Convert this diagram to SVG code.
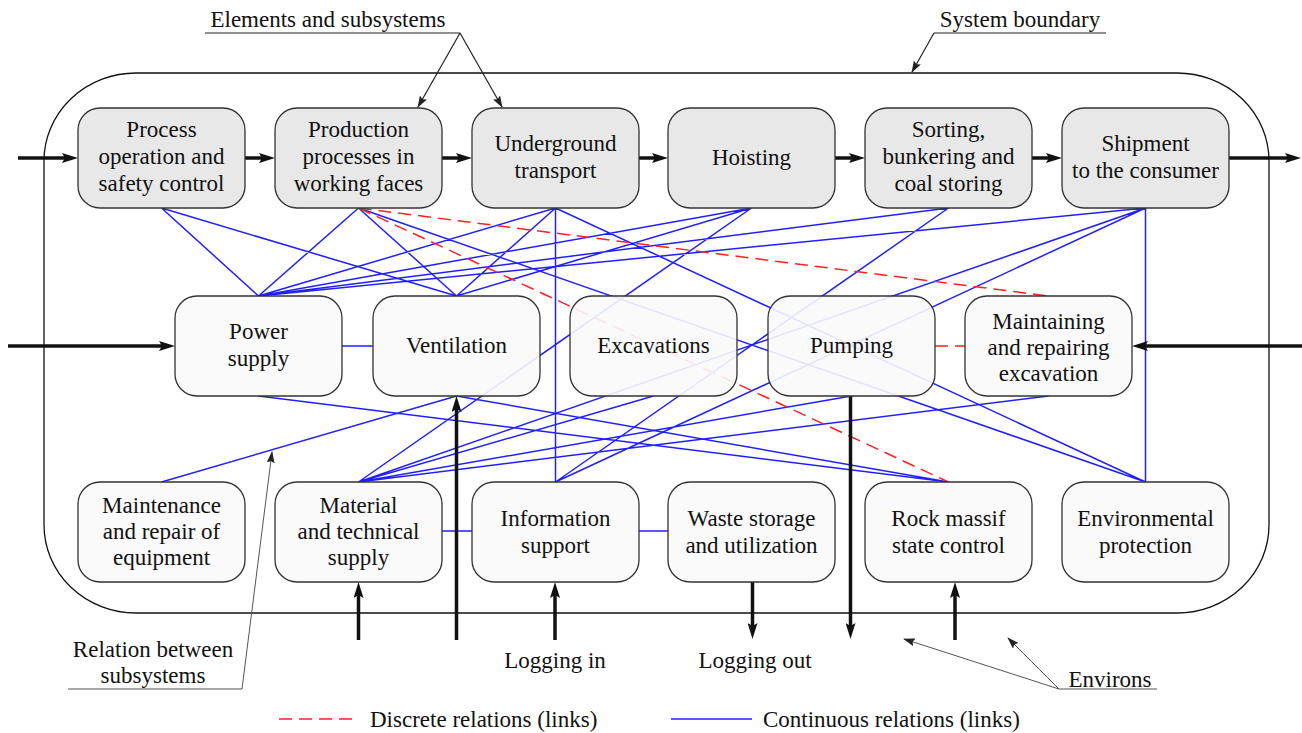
<svg xmlns="http://www.w3.org/2000/svg" width="1302" height="733" viewBox="0 0 1302 733">
<defs>
<marker id="thick" markerUnits="userSpaceOnUse" viewBox="0 0 16 10" markerWidth="16" markerHeight="10" refX="4" refY="5" orient="auto"><path d="M0,0 L16,5 L0,10 L3,5 z" fill="#111"/></marker>
<marker id="thin" markerUnits="userSpaceOnUse" viewBox="0 0 12 8" markerWidth="12" markerHeight="8" refX="11" refY="4" orient="auto"><path d="M0,0 L12,4 L0,8 L2,4 z" fill="#222"/></marker>
</defs>
<style>
text{font-family:"Liberation Serif","Times New Roman",serif;font-size:23px;fill:#111;text-anchor:middle}
.lbl{text-anchor:start}
.box{stroke:#333;stroke-width:1.3}
.top{fill:#e8e8e8}
.low{fill:#fafafa;fill-opacity:0.9}
.blue{stroke:#2020ff;stroke-width:1.5;fill:none}
.red{stroke:#ff2020;stroke-width:1.5;stroke-dasharray:13 7;fill:none}
.flow{stroke:#111;stroke-width:3.5;fill:none;marker-end:url(#thick)}
.note{stroke:#222;stroke-width:1.2;fill:none}
.note2{stroke:#555;stroke-width:1;fill:none}
</style>
<rect width="1302" height="733" fill="#fff"/>
<g id="boundary"><rect x="44" y="73" width="1225" height="540" rx="92" ry="88" fill="none" stroke="#111" stroke-width="1.3"/></g>
<g id="connectors">
<path class="blue" d="M161.5,208 L258.5,296 M161.5,208 L456.5,296 M358.5,208 L258.5,296 M358.5,208 L456.5,296 M358.5,208 L1145.5,482 M555.5,208 L258.5,296 M555.5,208 L456.5,296 M555.5,208 L555.5,482 M555.5,208 L1145.5,482 M751.5,208 L258.5,296 M751.5,208 L456.5,296 M751.5,208 L358.5,482 M948.5,208 L258.5,296 M948.5,208 L555.5,482 M1145.5,208 L258.5,296 M1145.5,208 L358.5,482 M1145.5,208 L555.5,482 M1145.5,208 L1145.5,482 M258.5,396 L948.5,482 M456.5,396 L161.5,482 M456.5,396 L948.5,482 M358.5,482 L653.5,396 M358.5,482 L851.5,396 M358.5,482 L1048.5,396 M342,346 L373,346 M442,531 L472,531 M639,531 L668,531"/>
<path class="red" d="M358.5,208 L1048.5,296 M358.5,208 L948.5,482 M935,346 L965,346"/>
<path class="flow" d="M18,158 L66,158"/>
<path class="flow" d="M245,158 L263,158"/>
<path class="flow" d="M442,158 L460,158"/>
<path class="flow" d="M639,158 L656,158"/>
<path class="flow" d="M835,158 L853,158"/>
<path class="flow" d="M1032,158 L1050,158"/>
<path class="flow" d="M1229,158 L1289,158"/>
<path class="flow" d="M8,346 L163,346"/>
<path class="flow" d="M1302,346 L1144,346"/>
<path class="flow" d="M358.5,640 L358.5,594"/>
<path class="flow" d="M456.5,640 L456.5,408"/>
<path class="flow" d="M555,640 L555,594"/>
<path class="flow" d="M955,640 L955,594"/>
<path class="flow" d="M752.5,582 L752.5,627"/>
<path class="flow" d="M850.5,396 L850.5,627"/>
</g>
<g id="n-process"><rect class="box top" x="78" y="108" width="167" height="100" rx="22"/><text x="161.5" y="137">Process</text><text x="161.5" y="164">operation and</text><text x="161.5" y="191">safety control</text></g>
<g id="n-production"><rect class="box top" x="275" y="108" width="167" height="100" rx="22"/><text x="358.5" y="137">Production</text><text x="358.5" y="164">processes in</text><text x="358.5" y="191">working faces</text></g>
<g id="n-underground"><rect class="box top" x="472" y="108" width="167" height="100" rx="22"/><text x="555.5" y="151">Underground</text><text x="555.5" y="178">transport</text></g>
<g id="n-hoisting"><rect class="box top" x="668" y="108" width="167" height="100" rx="22"/><text x="751.5" y="165">Hoisting</text></g>
<g id="n-sorting"><rect class="box top" x="865" y="108" width="167" height="100" rx="22"/><text x="948.5" y="137">Sorting,</text><text x="948.5" y="164">bunkering and</text><text x="948.5" y="191">coal storing</text></g>
<g id="n-shipment"><rect class="box top" x="1062" y="108" width="167" height="100" rx="22"/><text x="1145.5" y="151">Shipment</text><text x="1145.5" y="178">to the consumer</text></g>
<g id="n-power"><rect class="box low" x="175" y="296" width="167" height="100" rx="22"/><text x="258.5" y="339">Power</text><text x="258.5" y="366">supply</text></g>
<g id="n-ventilation"><rect class="box low" x="373" y="296" width="167" height="100" rx="22"/><text x="456.5" y="353">Ventilation</text></g>
<g id="n-excavations"><rect class="box low" x="570" y="296" width="167" height="100" rx="22"/><text x="653.5" y="353">Excavations</text></g>
<g id="n-pumping"><rect class="box low" x="768" y="296" width="167" height="100" rx="22"/><text x="851.5" y="353">Pumping</text></g>
<g id="n-maintaining"><rect class="box low" x="965" y="296" width="167" height="100" rx="22"/><text x="1048.5" y="329">Maintaining</text><text x="1048.5" y="355">and repairing</text><text x="1048.5" y="381">excavation</text></g>
<g id="n-maintenance"><rect class="box low" x="78" y="482" width="167" height="100" rx="22"/><text x="161.5" y="513">Maintenance</text><text x="161.5" y="539">and repair of</text><text x="161.5" y="565">equipment</text></g>
<g id="n-material"><rect class="box low" x="275" y="482" width="167" height="100" rx="22"/><text x="358.5" y="513">Material</text><text x="358.5" y="539">and technical</text><text x="358.5" y="565">supply</text></g>
<g id="n-information"><rect class="box low" x="472" y="482" width="167" height="100" rx="22"/><text x="555.5" y="526">Information</text><text x="555.5" y="553">support</text></g>
<g id="n-waste"><rect class="box low" x="668" y="482" width="167" height="100" rx="22"/><text x="751.5" y="526">Waste storage</text><text x="751.5" y="553">and utilization</text></g>
<g id="n-rock"><rect class="box low" x="865" y="482" width="167" height="100" rx="22"/><text x="948.5" y="526">Rock massif</text><text x="948.5" y="553">state control</text></g>
<g id="n-environmental"><rect class="box low" x="1062" y="482" width="167" height="100" rx="22"/><text x="1145.5" y="526">Environmental</text><text x="1145.5" y="553">protection</text></g>
<g id="annotations">
<text x="328" y="27">Elements and subsystems</text>
<path class="note" d="M205,33 L460,33"/>
<path class="note" d="M460,33 L418,107" marker-end="url(#thin)"/>
<path class="note" d="M460,33 L502,107" marker-end="url(#thin)"/>
<text x="1020" y="27">System boundary</text>
<path class="note" d="M934,33 L1106,33"/>
<path class="note" d="M934,33 L912,72" marker-end="url(#thin)"/>
<text x="153" y="657">Relation between</text>
<text x="153" y="683">subsystems</text>
<path class="note2" d="M68,689 L242,689 L272,452" marker-end="url(#thin)"/>
<text x="555" y="668">Logging in</text>
<text x="755" y="668">Logging out</text>
<text x="1110" y="687">Environs</text>
<path class="note2" d="M1157,689 L1059,689"/>
<path class="note2" d="M1059,689 L904,639" marker-end="url(#thin)"/>
<path class="note2" d="M1059,689 L1008,638" marker-end="url(#thin)"/>
</g>
<g id="legend">
<path class="red" d="M279,719 L359,719" stroke-dasharray="14 8"/>
<text class="lbl" x="370" y="727">Discrete relations (links)</text>
<path class="blue" d="M671,719 L752,719"/>
<text class="lbl" x="763" y="727">Continuous relations (links)</text>
</g>
</svg>
